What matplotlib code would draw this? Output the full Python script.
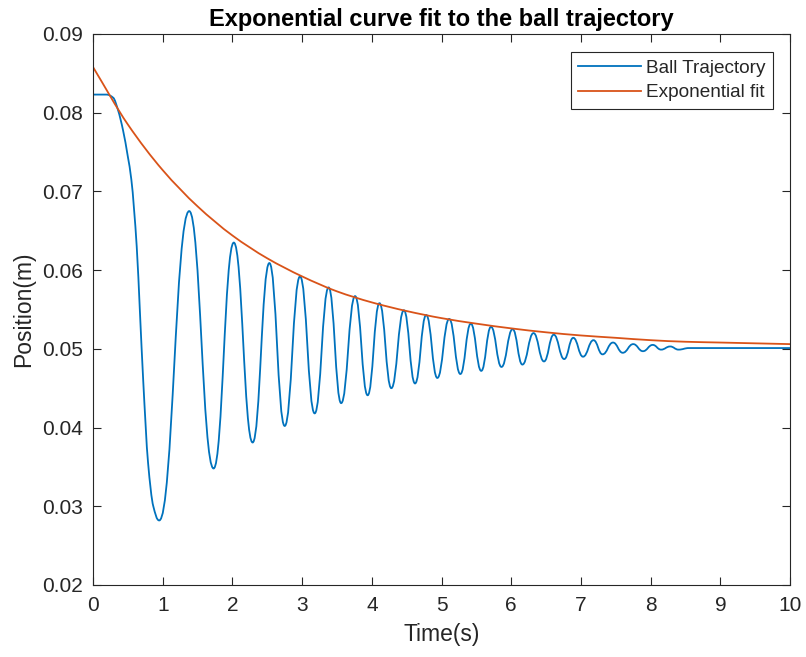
import numpy as np
import matplotlib
matplotlib.use("Agg")
import matplotlib.pyplot as plt
from matplotlib.path import Path
from matplotlib.patches import PathPatch
from matplotlib.lines import Line2D

plt.rcParams['font.family'] = ['Liberation Sans', 'DejaVu Sans']

# ball trajectory: start plateau, first drop, then peaks / troughs
ball_t = [0.00, 0.19, 0.29, 0.36, 0.43, 0.50, 0.55, 0.627, 0.674, 0.72, 0.79, 0.865,
          0.95, 1.38, 1.73, 2.02, 2.29, 2.53, 2.75, 2.97, 3.18, 3.38, 3.56, 3.76,
          3.94, 4.11, 4.28, 4.46, 4.62, 4.78, 4.94, 5.11, 5.27, 5.42, 5.57, 5.71,
          5.86, 6.02, 6.16, 6.32, 6.47, 6.61, 6.76, 6.89, 7.03, 7.18, 7.31, 7.46,
          7.60, 7.75, 7.89, 8.03, 8.15, 8.28, 8.40, 8.55, 10.0]
ball_y = [0.0823, 0.0823, 0.0819, 0.0803, 0.0778, 0.0744, 0.0715, 0.0630, 0.0545,
          0.0460, 0.0355, 0.0300,
          0.0282, 0.0675, 0.0348, 0.0635, 0.0381, 0.0609, 0.0402, 0.0592, 0.0418,
          0.0578, 0.0431, 0.0567, 0.0441, 0.0558, 0.0450, 0.0549, 0.0456, 0.0543,
          0.0463, 0.0538, 0.0468, 0.0532, 0.0472, 0.0528, 0.0477, 0.0525, 0.0480,
          0.0520, 0.0484, 0.0518, 0.0487, 0.0514, 0.0490, 0.0511, 0.0493, 0.0508,
          0.0495, 0.0506, 0.0497, 0.0505, 0.0499, 0.0503, 0.0499, 0.0501, 0.0501]

# exponential fit, read every 0.5 s
fit_t = [0.0, 0.5, 1.0, 1.5, 2.0, 2.5, 3.0, 3.5, 4.0, 4.5, 5.0,
         5.5, 6.0, 6.5, 7.0, 7.5, 8.0, 8.5, 9.0, 9.5, 10.0]
fit_y = [0.0858, 0.0785, 0.0727, 0.0681, 0.0644, 0.0615, 0.0592, 0.0573, 0.0559,
         0.0548, 0.0539, 0.0532, 0.0526, 0.0521, 0.0517, 0.0514, 0.0511, 0.0509,
         0.0508, 0.0507, 0.0506]

x_ticks = [0, 1, 2, 3, 4, 5, 6, 7, 8, 9, 10]
y_ticks = [0.02, 0.03, 0.04, 0.05, 0.06, 0.07, 0.08, 0.09]

blue = '#0072BD'
orange = '#D95319'
axcol = '#262626'


def smooth_path(xs, ys, ends_flat=True, k_flat=0.45):
    # bezier path through the read points (flat tangents at peaks/troughs)
    x = np.asarray(xs, float)
    y = np.asarray(ys, float)
    n = len(x)
    d = np.diff(y) / np.diff(x)
    m = np.zeros(n)
    for i in range(1, n - 1):
        if d[i - 1] * d[i] > 0:
            m[i] = 2.0 / (1.0 / d[i - 1] + 1.0 / d[i])
    if not ends_flat:
        m[0] = d[0]
        m[-1] = d[-1]
    verts = [(x[0], y[0])]
    codes = [Path.MOVETO]
    for i in range(n - 1):
        h = x[i + 1] - x[i]
        a = k_flat if m[i] == 0 else 1 / 3
        b = k_flat if m[i + 1] == 0 else 1 / 3
        verts += [(x[i] + a * h, y[i] + a * h * m[i]),
                  (x[i + 1] - b * h, y[i + 1] - b * h * m[i + 1]),
                  (x[i + 1], y[i + 1])]
        codes += [Path.CURVE4] * 3
    return Path(verts, codes)


fig = plt.figure(figsize=(8.06, 6.57), dpi=100)
ax = fig.add_axes([0.1154, 0.1096, 0.8648, 0.8387])

ax.add_patch(PathPatch(smooth_path(ball_t, ball_y), facecolor='none',
                       edgecolor=blue, lw=1.3, capstyle='butt', joinstyle='round'))
ax.add_patch(PathPatch(smooth_path(fit_t, fit_y, ends_flat=False), facecolor='none',
                       edgecolor=orange, lw=1.3, capstyle='butt', joinstyle='round'))

ax.set_xlim(0, 10)
ax.set_ylim(0.02, 0.09)
ax.set_xticks(x_ticks)
ax.set_xticklabels([str(v) for v in x_ticks])
ax.set_yticks(y_ticks)
ax.set_yticklabels(['%.2f' % v for v in y_ticks])
ax.tick_params(direction='in', top=True, right=True, length=6, width=0.8,
               colors=axcol, labelsize=15)
ax.tick_params(axis='x', pad=8)
ax.tick_params(axis='y', pad=7)
for s in ax.spines.values():
    s.set_color(axcol)
    s.set_linewidth(0.8)

ax.set_title('Exponential curve fit to the ball trajectory', fontsize=17,
             fontweight='bold', pad=6)
ax.set_xlabel('Time(s)', fontsize=16.5, color=axcol, labelpad=6)
ax.set_ylabel('Position(m)', fontsize=16.5, color=axcol, labelpad=5)

handles = [Line2D([], [], color=blue, lw=1.3), Line2D([], [], color=orange, lw=1.3)]
leg = ax.legend(handles, ['Ball Trajectory', 'Exponential fit'], loc='upper right',
                bbox_to_anchor=(0.9756, 0.9673), borderaxespad=0, fontsize=13.7,
                fancybox=False, edgecolor=axcol, framealpha=1, handlelength=3.3,
                handletextpad=0.3, borderpad=0.38, labelspacing=0.4)
leg.get_frame().set_linewidth(0.8)
for t in leg.get_texts():
    t.set_color(axcol)

fig.savefig('out.png', dpi=100)
